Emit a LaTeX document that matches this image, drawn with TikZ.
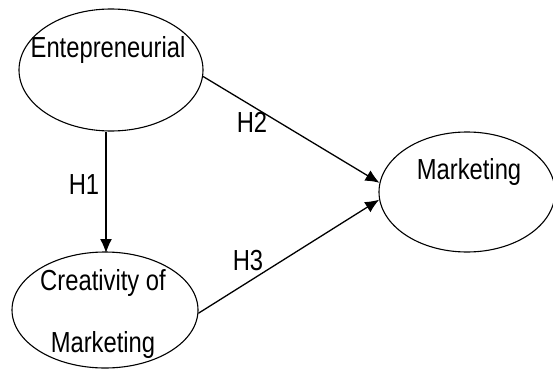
\documentclass[tikz,border=0pt]{standalone}
\usepackage{fontspec}
\setmainfont[FakeStretch=0.82]{Liberation Sans}
\usetikzlibrary{shapes.geometric,arrows.meta}

\tikzset{
    latent/.style={draw, ellipse, line width=1.1pt, inner sep=0pt},
    txt/.style={font=\fontsize{29}{32}\selectfont, inner sep=0pt},
    path/.style={line width=1.3pt, -{Latex[length=14pt,width=12pt]}}
}

\begin{document}
\begin{tikzpicture}[x=1pt,y=-1pt]
    \useasboundingbox (0,0) rectangle (553,369);

    % 潜在変数
    \node[latent, minimum width=184pt, minimum height=122pt] (ent) at (111,70) {};
    \node[latent, minimum width=186pt, minimum height=116pt] (cre) at (105,310) {};
    \node[latent, minimum width=176pt, minimum height=120pt] (mkt) at (467,192) {};

    \node[txt] (entText) at (108,50) {Entepreneurial};
    \node[txt] (creText) at (103,283) {Creativity of};
    \node[txt] (creText2) at (103,345) {Marketing};
    \node[txt] (mktText) at (469,172) {Marketing};

    % 仮説のパス
    \draw[path] (ent.south -| 106,0) -- (106,253);
    \draw[path] (ent.-4) -- (mkt.174);
    \draw[path] (cre.-2) -- (mkt.185);

    \node[txt] (h1) at (84,185) {H1};
    \node[txt] (h2) at (252,122) {H2};
    \node[txt] (h3) at (248,261) {H3};
\end{tikzpicture}
\end{document}
